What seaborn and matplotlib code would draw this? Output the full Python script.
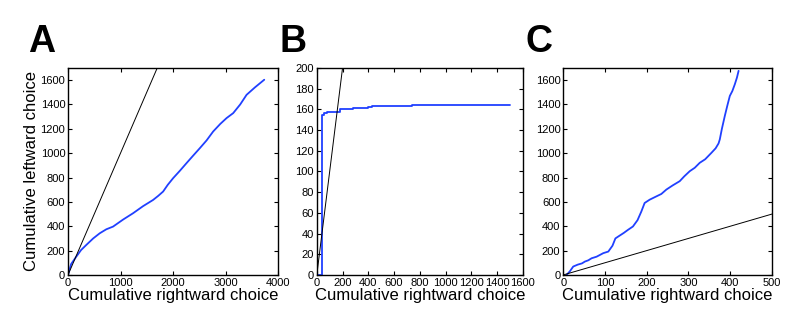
import numpy as np
import pandas as pd
import seaborn as sns
import matplotlib
matplotlib.use('Agg')
import matplotlib.pyplot as plt

# panel A: cumulative choices
a_right = [0, 60, 159, 250, 350, 480, 604, 730, 858, 1050, 1240, 1430, 1621, 1720, 1812, 1900, 2003, 2130, 2257, 2380, 2511, 2640, 2765, 2900, 3020, 3147, 3280, 3401, 3560, 3738]
a_left = [0, 90, 151, 205, 247, 300, 342, 375, 397, 455, 507, 565, 616, 650, 685, 740, 795, 855, 918, 978, 1041, 1105, 1178, 1240, 1288, 1329, 1400, 1479, 1540, 1603]

# panel B: staircase
b_right = [0, 40, 55, 80, 180, 280, 400, 430, 740, 1500]
b_left = [0, 155, 156, 157, 160, 161, 162, 163, 164.5, 164.5]

# panel C
c_right = [8, 16, 24, 35, 45, 52, 60, 68, 80, 96, 108, 118, 125, 132, 145, 155, 167, 178, 187, 195, 207, 220, 235, 247, 262, 279, 290, 303, 315, 327, 340, 355, 365, 372, 375, 380, 387, 393, 399, 405, 411, 416, 420]
c_left = [0, 30, 69, 85, 95, 110, 120, 137, 150, 179, 192, 240, 300, 316, 345, 370, 398, 450, 520, 591, 618, 640, 665, 701, 735, 770, 810, 852, 880, 921, 950, 1003, 1040, 1080, 1113, 1200, 1306, 1390, 1470, 1510, 1566, 1620, 1676]

sns.set_style('ticks')
plt.rcParams['font.family'] = ['Liberation Sans', 'DejaVu Sans']
plt.rcParams['text.color'] = 'black'
plt.rcParams['axes.labelcolor'] = 'black'
plt.rcParams['xtick.color'] = 'black'
plt.rcParams['ytick.color'] = 'black'
plt.rcParams['axes.edgecolor'] = 'black'

fig = plt.figure(figsize=(8, 3.25), dpi=100)
bottom, height = 0.154, 0.637
axA = fig.add_axes([0.085, bottom, 0.2625, height])
axB = fig.add_axes([0.396, bottom, 0.2575, height])
axC = fig.add_axes([0.704, bottom, 0.261, height])

blue = '#2040ff'

dfA = pd.DataFrame({'right': a_right, 'left': a_left})
sns.lineplot(data=dfA, x='right', y='left', ax=axA, color=blue, lw=1.3, sort=False)
dfB = pd.DataFrame({'right': b_right, 'left': b_left})
sns.lineplot(data=dfB, x='right', y='left', ax=axB, color=blue, lw=1.3, sort=False, drawstyle='steps-post')
dfC = pd.DataFrame({'right': c_right, 'left': c_left})
sns.lineplot(data=dfC, x='right', y='left', ax=axC, color=blue, lw=1.3, sort=False)

# unity lines
for ax, lim in [(axA, 4000), (axB, 1600), (axC, 500)]:
    sns.lineplot(x=[0, lim], y=[0, lim], ax=ax, color='black', lw=0.7)

axA.set_xlim(0, 4000)
axA.set_ylim(0, 1700)
axA.set_xticks(range(0, 4001, 1000))
axA.set_yticks(range(0, 1601, 200))

axB.set_xlim(0, 1600)
axB.set_ylim(0, 200)
axB.set_xticks(range(0, 1601, 200))
axB.set_yticks(range(0, 201, 20))

axC.set_xlim(0, 500)
axC.set_ylim(0, 1700)
axC.set_xticks(range(0, 501, 100))
axC.set_yticks(range(0, 1601, 200))

for ax in [axA, axB, axC]:
    ax.tick_params(direction='in', top=True, right=True, labelsize=8, length=3, width=0.8, pad=2)
    for s in ax.spines.values():
        s.set_linewidth(1.0)
    ax.set_xlabel('Cumulative rightward choice', fontsize=12, labelpad=0)
    ax.set_ylabel('')

axA.set_ylabel('Cumulative leftward choice', fontsize=12, labelpad=1)

for x, letter in [(0.035, 'A'), (0.35, 'B'), (0.657, 'C')]:
    fig.text(x, 0.87, letter, fontsize=27, fontweight='bold', va='center', ha='left')

fig.savefig('out.png', dpi=100)
